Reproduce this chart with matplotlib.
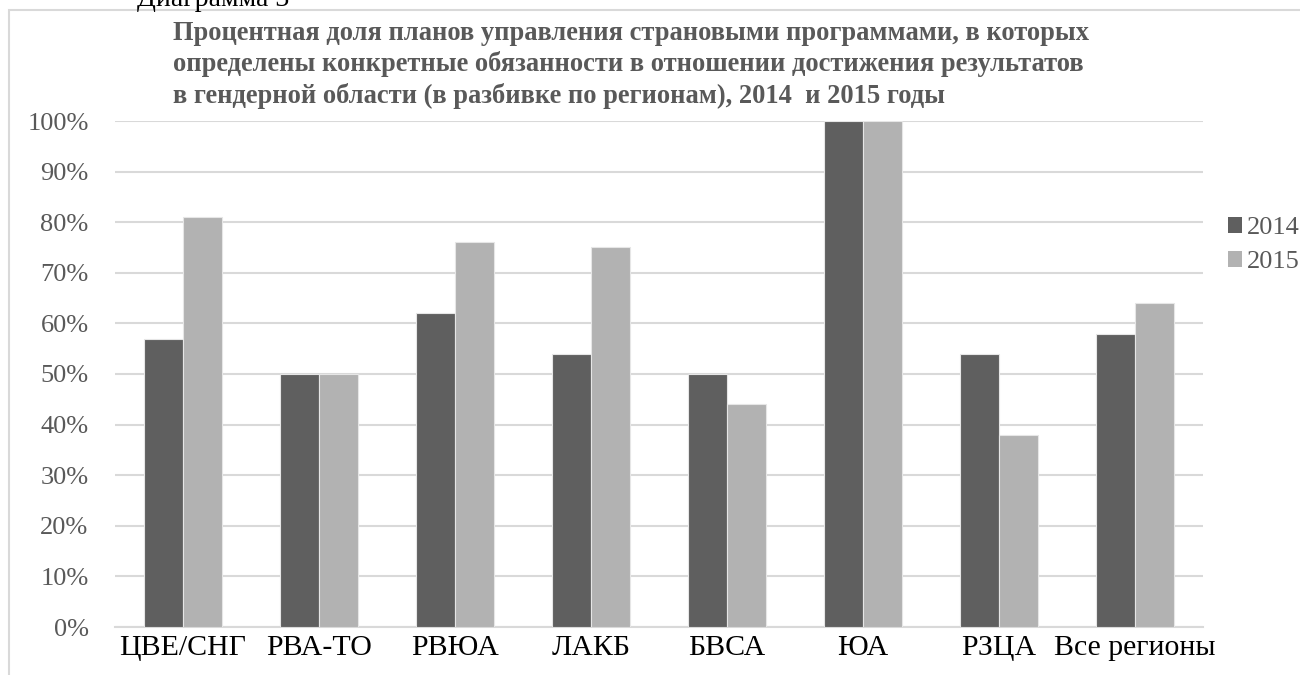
import numpy as np
import matplotlib.pyplot as plt
from matplotlib.patches import Rectangle, Patch

plt.rcParams['font.family'] = ['Liberation Serif', 'DejaVu Serif']

# Data
regions = ['ЦВЕ/СНГ', 'РВА-ТО', 'РВЮА', 'ЛАКБ', 'БВСА', 'ЮА', 'РЗЦА', 'Все регионы']
vals_2014 = [57, 50, 62, 54, 50, 100, 54, 58]
vals_2015 = [81, 50, 76, 75, 44, 100, 38, 64]
years = ['2014', '2015']
colors = ['#5f5f5f', '#b2b2b2']

fig = plt.figure(figsize=(13, 6.75), dpi=100)
ax = fig.add_axes([115/1300, 48/675, 1088/1300, 506/675])

# Outer chart border (cut off on right and bottom)
fig.patches.append(Rectangle((9/1300, -0.1), 1.2, 1.1 - 10/675, transform=fig.transFigure,
                             fill=False, edgecolor='#d9d9d9', linewidth=1.5, clip_on=False))

x = np.arange(len(regions))
w = 1 / 3.5
ax.bar(x - w/2, vals_2014, w, color=colors[0], edgecolor='#e6e6e6', linewidth=0.8, zorder=3)
ax.bar(x + w/2, vals_2015, w, color=colors[1], edgecolor='#e6e6e6', linewidth=0.8, zorder=3)

ax.set_xlim(-0.5, len(regions) - 0.5)
ax.set_ylim(0, 100)
ax.set_yticks(np.arange(0, 101, 10))
ax.set_yticklabels([f'{v}%' for v in range(0, 101, 10)], fontsize=19, color='#595959')
ax.set_xticks(x)
ax.set_xticklabels(regions, fontsize=21.5, color='black')
ax.tick_params(length=0, axis='both')
ax.tick_params(axis='y', pad=19)
ax.tick_params(axis='x', pad=6)
ax.grid(axis='y', color='#d9d9d9', linewidth=1.5, zorder=0)
for s in ['top', 'right', 'left']:
    ax.spines[s].set_visible(False)
ax.spines['bottom'].set_color('#d9d9d9')
ax.spines['bottom'].set_linewidth(1.5)

# Title
fig.text(173/1300, 1 - 21/675,
         'Процентная доля планов управления страновыми программами, в которых\n'
         'определены конкретные обязанности в отношении достижения результатов\n'
         'в гендерной области (в разбивке по регионам), 2014  и 2015 годы',
         ha='left', va='top', fontsize=19.1, fontweight='bold', color='#595959', linespacing=1.27)
fig.text(137/1300, 1 - 6/675, 'Диаграмма 3', ha='left', va='baseline', fontsize=20, color='black')

# Legend
handles = [Patch(facecolor=c, edgecolor='none') for c in colors]
fig.legend(handles, years, loc='center left', bbox_to_anchor=(1217/1300, 1 - 245/675),
           frameon=False, fontsize=19, labelcolor='#595959', handlelength=0.55, handleheight=0.55,
           handletextpad=0.2, labelspacing=0.45, borderaxespad=0)

fig.savefig('out.png', dpi=100)
